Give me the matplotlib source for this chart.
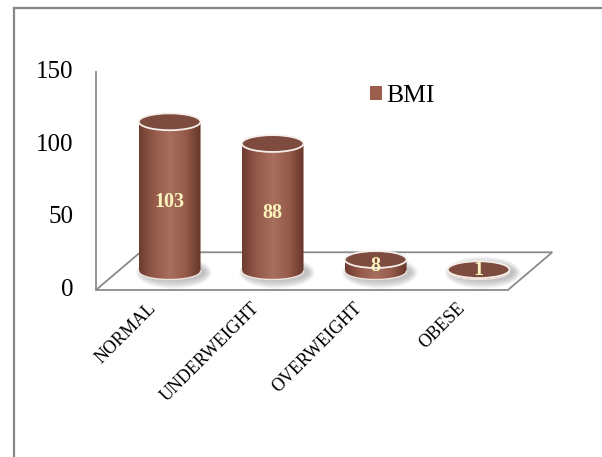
import matplotlib.pyplot as plt
import numpy as np
from matplotlib.patches import Ellipse, Polygon, Patch
from matplotlib.lines import Line2D
from matplotlib.colors import LinearSegmentedColormap

# BMI groups and counts
categories = ["NORMAL", "UNDERWEIGHT", "OVERWEIGHT", "OBESE"]
bmi_counts = [103, 88, 8, 1]
y_ticks = [0, 50, 100, 150]

plt.rcParams['font.family'] = ['Liberation Serif', 'DejaVu Serif']

fig = plt.figure(figsize=(6.02, 4.57), dpi=100)
ax = fig.add_axes([0, 0, 1, 1])
ax.axis('off')

# fake 3d: floor depth offset in data units
depth_x = 0.43
depth_y = 26
radius = 0.30
ell_h = 5.8
axis_gray = "#8a8a8a"

body_cmap = LinearSegmentedColormap.from_list(
    "body", ["#6e3c31", "#955a49", "#a86f5e", "#965b4b", "#663629"])

# floor of the plot area
floor = Polygon([(0, 0), (len(categories), 0),
                 (len(categories) + depth_x, depth_y), (depth_x, depth_y)],
                closed=True, facecolor="none", edgecolor=axis_gray, lw=1.3, zorder=1)
ax.add_patch(floor)
# value axis line
ax.plot([0, 0], [0, max(y_ticks)], color=axis_gray, lw=1.3, zorder=1)

for v in y_ticks:
    ax.text(-0.22, v, str(v), ha="right", va="center", fontsize=18)

base = depth_y / 2
for i, (cat, val) in enumerate(zip(categories, bmi_counts)):
    cx = i + 0.5 + depth_x / 2
    top = base + val

    # soft shadow on the floor
    for s in np.linspace(1.0, 0.0, 8):
        sh = Ellipse((cx + 0.04, base - 1.0), 2 * radius * (1.0 + 0.22 * s),
                     2 * ell_h * (1.0 + 0.9 * s), facecolor="#7a7a7a",
                     edgecolor="none", alpha=0.07, zorder=2)
        ax.add_patch(sh)

    # cylinder body with horizontal shading
    t = np.linspace(np.pi, 2 * np.pi, 60)
    outline = list(zip(cx + radius * np.cos(t), base + ell_h * np.sin(t)))
    outline += [(cx + radius, top), (cx - radius, top)]
    body = Polygon(outline, closed=True, facecolor="none", edgecolor="none")
    body.set_transform(ax.transData)
    grad = np.linspace(0, 1, 256).reshape(1, -1)
    im = ax.imshow(grad, cmap=body_cmap, aspect="auto", zorder=3,
                   extent=(cx - radius, cx + radius, base - ell_h, top),
                   interpolation="bilinear")
    im.set_clip_path(body)

    # light rim along the bottom
    ax.plot(cx + radius * np.cos(t), base + ell_h * np.sin(t),
            color="#efe4de", lw=1.0, zorder=4)

    # top cap
    cap = Ellipse((cx, top), 2 * radius, 2 * ell_h, facecolor="#7e4b3f",
                  edgecolor="#f5eee9", lw=1.3, zorder=5)
    ax.add_patch(cap)

    label_y = (base + top) / 2 - min(val * 0.05, 4)
    ax.text(cx, label_y, str(val), ha="center", va="center",
            fontsize=14.5, fontweight="bold", color="#fbf4bc", zorder=6)

    # category label
    ax.text(i + 0.5, -6.5, cat, rotation=45, ha="right", va="top",
            rotation_mode="anchor", fontsize=13)

ax.set_xlim(-0.932, 4.913)
ax.set_ylim(-115.2, 200)

fig.legend(handles=[Patch(facecolor="#9c5e4c")], labels=["BMI"],
           loc="center left", bbox_to_anchor=(370 / 602, 1 - 96 / 457),
           frameon=False, fontsize=18.5, handlelength=0.45, handleheight=0.45,
           handletextpad=0.2, borderpad=0, borderaxespad=0)

# chart frame
fig.add_artist(Line2D([14 / 602, 14 / 602], [0, 1 - 8 / 457],
                      transform=fig.transFigure, color="#878787", lw=1.6))
fig.add_artist(Line2D([14 / 602, 1], [1 - 8 / 457, 1 - 8 / 457],
                      transform=fig.transFigure, color="#878787", lw=1.6))

fig.savefig("out.png", dpi=100)
